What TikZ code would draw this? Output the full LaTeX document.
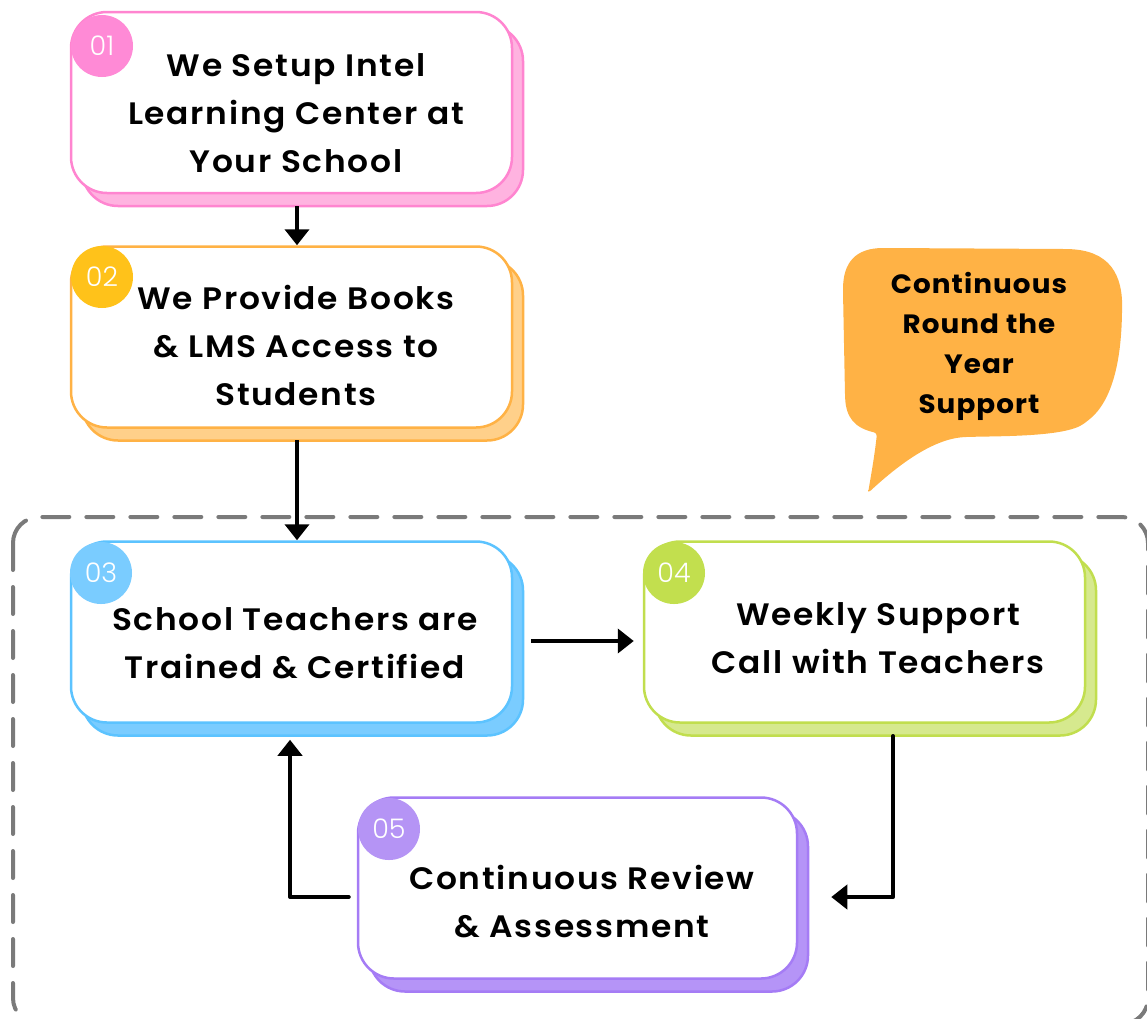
\documentclass[tikz,border=0pt]{standalone}
\usepackage{fontspec}
\setmainfont{Poppins}
\newfontfamily\semifont{Poppins SemiBold}[FakeStretch=1.06, LetterSpace=5.5]
\newfontfamily\boldfont{Poppins Bold}[FakeStretch=1.05, LetterSpace=4]
\newfontfamily\lightfont{Poppins Light}
\usetikzlibrary{arrows.meta,shadows}
\definecolor{pinkB}{HTML}{FF85D0}
\definecolor{pinkS}{HTML}{FFB3E0}
\definecolor{pinkC}{HTML}{FF8AD6}
\definecolor{oraB}{HTML}{FFB245}
\definecolor{oraS}{HTML}{FFD08A}
\definecolor{oraC}{HTML}{FFC21A}
\definecolor{bluB}{HTML}{5CC3FF}
\definecolor{bluS}{HTML}{7ACCFF}
\definecolor{bluC}{HTML}{7ACCFF}
\definecolor{grnB}{HTML}{C1DE4E}
\definecolor{grnS}{HTML}{D6E98E}
\definecolor{grnC}{HTML}{C2DF4E}
\definecolor{purB}{HTML}{A57CF5}
\definecolor{purS}{HTML}{B594F7}
\definecolor{purC}{HTML}{B594F5}
\definecolor{bubble}{HTML}{FFB245}
\definecolor{dashgray}{HTML}{7A7A7A}
\tikzset{
  stepcard/.style 2 args={rounded corners=36pt, minimum width=441pt, minimum height=181pt,
    fill=white, draw=#1, line width=2.5pt, inner sep=0pt,
    copy shadow={shadow xshift=11pt, shadow yshift=-13pt, fill=#2, draw=#1, line width=2.5pt}},
  badge/.style={circle, fill=#1, minimum size=62pt, inner sep=0pt, text=white,
    font=\lightfont\fontsize{27}{27}\selectfont},
  steptext/.style={align=center, inner sep=0pt, font=\semifont\fontsize{31}{48}\selectfont},
  flow/.style={line width=4pt, -{Triangle[width=24pt,length=16pt]}},
  flowline/.style={line width=4pt, line cap=round},
}
\begin{document}
\begin{tikzpicture}[x=1pt,y=-1pt]
\useasboundingbox (0,0) rectangle (1147,1018);
% dashed frame
\draw[dashgray, line width=4pt, line cap=round, dash pattern=on 27pt off 17pt, rounded corners=26pt]
  (13,517) rectangle (1148,1024);
% speech bubble
\fill[bubble, rounded corners=3pt] (868,493) .. controls (872,470) and (875,452) .. (877,433)
 .. controls (855,428) and (846,418) .. (845,395)
 -- (843,292)
 .. controls (843,262) and (856,248) .. (886,248)
 -- (1065,249)
 .. controls (1110,250) and (1123,275) .. (1122,312)
 .. controls (1121,362) and (1112,402) .. (1086,422)
 .. controls (1066,437) and (1000,436) .. (965,437)
 .. controls (930,440) and (895,468) .. (868,493) -- cycle;
\node[align=center, inner sep=0pt, font=\boldfont\fontsize{26.5}{40}\selectfont] (bt) at (979,346)
  {Continuous\\Round the\\Year\\Support};
% cards
\node[stepcard={pinkB}{pinkS}] (b1) at (291.5,102.5) {};
\node[stepcard={oraB}{oraS}] (b2) at (291.5,337) {};
\node[stepcard={bluB}{bluS}] (b3) at (291.5,632) {};
\node[stepcard={grnB}{grnS}] (b4) at (864.5,632) {};
\node[stepcard={purB}{purS}, minimum width=439pt] (b5) at (577.5,888) {};
% texts
\node[steptext] (t1) at (296,113) {We Setup Intel\\Learning Center at\\Your School};
\node[steptext] (t2) at (296,345) {We Provide Books\\\& LMS Access to\\Students};
\node[steptext] (t3) at (295,643) {School Teachers are\\Trained \& Certified};
\node[steptext] (t4) at (878,638) {Weekly Support\\Call with Teachers};
\node[steptext] (t5) at (582,902) {Continuous Review\\\& Assessment};
% badges
\node[badge=pinkC] (n1) at (102,46) {01};
\node[badge=oraC] (n2) at (102,277) {02};
\node[badge=bluC] (n3) at (101,573) {03};
\node[badge=grnC] (n4) at (674,573) {04};
\node[badge=purC] (n5) at (389,829) {05};
% connectors
\coordinate (a1) at ([shift={(5.5,103.5)}]b1.center);
\draw[flow] (a1) -- (a1 |- b2.north);
\coordinate (a2) at ([shift={(5.5,103)}]b2.center);
\draw[flow] (a2) -- (a2 |- b3.north);
\coordinate (a3) at ([shift={(239.5,9)}]b3.center);
\draw[flow] (a3) -- ([shift={(-9,9)}]b4.west);
\coordinate (a4) at ([shift={(28.5,104)}]b4.center);
\coordinate (k4) at ([shift={(28.5,9)}]b4.center |- b5.center);
\draw[flowline] (a4) -- (k4);
\draw[flow] (k4) -- ([shift={(33,9)}]b5.east);
\coordinate (a5) at ([shift={(-8,9)}]b5.west);
\coordinate (k5) at ([xshift=-1.5]b3.center |- a5);
\draw[flowline] (a5) -- (k5);
\draw[flow] (k5) -- ([shift={(-1.5,16)}]b3.south);
\end{tikzpicture}
\end{document}
